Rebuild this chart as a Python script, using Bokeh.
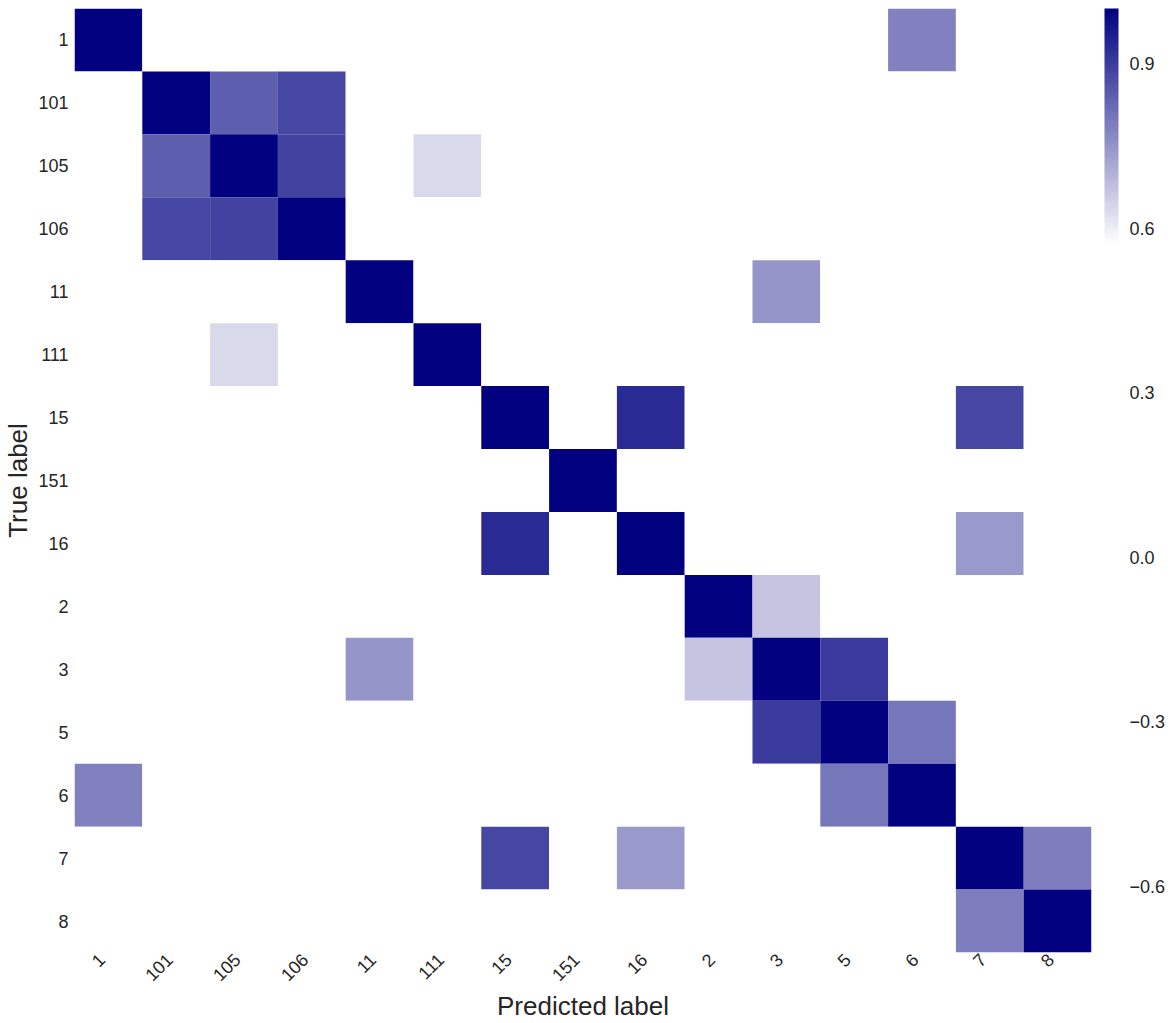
import math
from bokeh.plotting import figure
from bokeh.models import (ColumnDataSource, LinearColorMapper, ColorBar, FixedTicker,
                          Range1d, LinearAxis, CustomJSTickFormatter)
from bokeh.embed import file_html
from bokeh.resources import INLINE

labels = ["1", "101", "105", "106", "11", "111", "15", "151", "16", "2", "3", "5", "6", "7", "8"]

# rows = true label, columns = predicted label (same order as labels)
values = [
    [1.00, 0, 0, 0, 0, 0, 0, 0, 0, 0, 0, 0, 0.78, 0, 0],
    [0, 1.00, 0.84, 0.88, 0, 0, 0, 0, 0, 0, 0, 0, 0, 0, 0],
    [0, 0.84, 1.00, 0.89, 0, 0.635, 0, 0, 0, 0, 0, 0, 0, 0, 0],
    [0, 0.88, 0.89, 1.00, 0, 0, 0, 0, 0, 0, 0, 0, 0, 0, 0],
    [0, 0, 0, 0, 1.00, 0, 0, 0, 0, 0, 0.75, 0, 0, 0, 0],
    [0, 0, 0.635, 0, 0, 1.00, 0, 0, 0, 0, 0, 0, 0, 0, 0],
    [0, 0, 0, 0, 0, 0, 1.00, 0, 0.93, 0, 0, 0, 0, 0.88, 0],
    [0, 0, 0, 0, 0, 0, 0, 1.00, 0, 0, 0, 0, 0, 0, 0],
    [0, 0, 0, 0, 0, 0, 0.93, 0, 1.00, 0, 0, 0, 0, 0.74, 0],
    [0, 0, 0, 0, 0, 0, 0, 0, 0, 1.00, 0.67, 0, 0, 0, 0],
    [0, 0, 0, 0, 0.75, 0, 0, 0, 0, 0.67, 1.00, 0.90, 0, 0, 0],
    [0, 0, 0, 0, 0, 0, 0, 0, 0, 0, 0.90, 1.00, 0.80, 0, 0],
    [0.78, 0, 0, 0, 0, 0, 0, 0, 0, 0, 0, 0.80, 1.00, 0, 0],
    [0, 0, 0, 0, 0, 0, 0.88, 0, 0.74, 0, 0, 0, 0, 1.00, 0.785],
    [0, 0, 0, 0, 0, 0, 0, 0, 0, 0, 0, 0, 0, 0.785, 1.00],
]

cbar_ticks = [0.9, 0.6, 0.3, 0.0, -0.3, -0.6]
CBAR_LOW, CBAR_HIGH, WHITE_BELOW = -0.72, 1.0, 0.57

# palette: white below threshold, then linear white -> navy
N = 256
palette = []
for i in range(N):
    v = CBAR_LOW + (CBAR_HIGH - CBAR_LOW) * (i + 0.5) / N
    if v < WHITE_BELOW:
        palette.append("#ffffff")
    else:
        t = (v - WHITE_BELOW) / (CBAR_HIGH - WHITE_BELOW)
        r = round(255 * (1 - t))
        b = round(255 * (1 - t) + 128 * t)
        palette.append("#%02x%02x%02x" % (r, r, b))

# cell centres at position index + 0.5 (column = predicted, row = true)
xs, ys, vs = [], [], []
for ri, row in enumerate(values):
    for ci, v in enumerate(row):
        xs.append(ci + 0.5)
        ys.append(ri + 0.5)
        vs.append(v)
src = ColumnDataSource(dict(x=xs, y=ys, v=vs))

mapper = LinearColorMapper(palette=palette, low=CBAR_LOW, high=CBAR_HIGH)

FONT = "Liberation Sans"
TXT = "#262626"
LABEL_SHIFT = 0.10  # rotated tick labels end at the tick (right-aligned look)
n = len(labels)

p = figure(x_range=Range1d(0, n), y_range=Range1d(n, 0),
           frame_width=1017, frame_height=944, x_axis_location=None, y_axis_location=None,
           min_border_top=8, min_border_left=65, min_border_bottom=68, min_border_right=30,
           toolbar_location=None, output_backend="svg")

p.rect(x="x", y="y", width=1, height=1, source=src,
       fill_color={"field": "v", "transform": mapper}, line_color=None)

p.extra_x_ranges = {"lbl": Range1d(start=LABEL_SHIFT, end=n + LABEL_SHIFT)}
p.extra_y_ranges = {"cb": Range1d(start=CBAR_LOW, end=CBAR_HIGH)}

fmt_labels = CustomJSTickFormatter(args=dict(labels=labels),
                                   code="return labels[Math.round(tick - 0.5)]")
centres = [i + 0.5 for i in range(n)]
xa = LinearAxis(x_range_name="lbl", ticker=FixedTicker(ticks=centres), formatter=fmt_labels)
ya = LinearAxis(ticker=FixedTicker(ticks=centres), formatter=fmt_labels)
p.add_layout(xa, "below")
p.add_layout(ya, "left")

p.outline_line_color = None
p.grid.grid_line_color = None
for ax in (xa, ya):
    ax.axis_line_color = None
    ax.major_tick_line_color = None
    ax.minor_tick_line_color = None
    ax.major_tick_out = 0
    ax.minor_tick_out = 0
    ax.major_label_text_font = FONT
    ax.major_label_text_font_size = "18px"
    ax.major_label_text_color = TXT
    ax.axis_label_text_font = FONT
    ax.axis_label_text_font_size = "26px"
    ax.axis_label_text_font_style = "normal"
    ax.axis_label_text_color = TXT

xa.axis_label = "Predicted label"
ya.axis_label = "True label"
xa.major_label_orientation = math.pi / 4
xa.major_label_standoff = 4
ya.major_label_standoff = 6
xa.axis_label_standoff = 1
ya.axis_label_standoff = 2

# spacer between heatmap and colour bar (invisible axis)
spacer = LinearAxis(ticker=FixedTicker(ticks=[n / 2]), axis_line_color=None,
                    major_tick_line_color=None, minor_tick_line_color=None,
                    major_tick_out=13, minor_tick_out=0, major_label_standoff=0,
                    major_label_text_font_size="0px", major_label_text_alpha=0)
p.add_layout(spacer, "right")

cb = ColorBar(color_mapper=mapper, width=14, padding=0, margin=0,
              ticker=FixedTicker(ticks=[]),
              major_tick_line_color=None, minor_tick_line_color=None,
              bar_line_color=None, border_line_color=None, background_fill_color=None,
              label_standoff=0, major_label_text_font_size="0px")
p.add_layout(cb, "right")

# colour-bar tick labels
cba = LinearAxis(y_range_name="cb", ticker=FixedTicker(ticks=cbar_ticks),
                 formatter=CustomJSTickFormatter(code="return tick.toFixed(1).replace('-', '\u2212')"),
                 axis_line_color=None, major_tick_line_color=None, minor_tick_line_color=None,
                 major_tick_out=0, minor_tick_out=0, major_label_standoff=11,
                 major_label_text_font=FONT, major_label_text_font_size="18px",
                 major_label_text_color=TXT)
p.add_layout(cba, "right")

open("out.html", "w").write(file_html(p, INLINE))
